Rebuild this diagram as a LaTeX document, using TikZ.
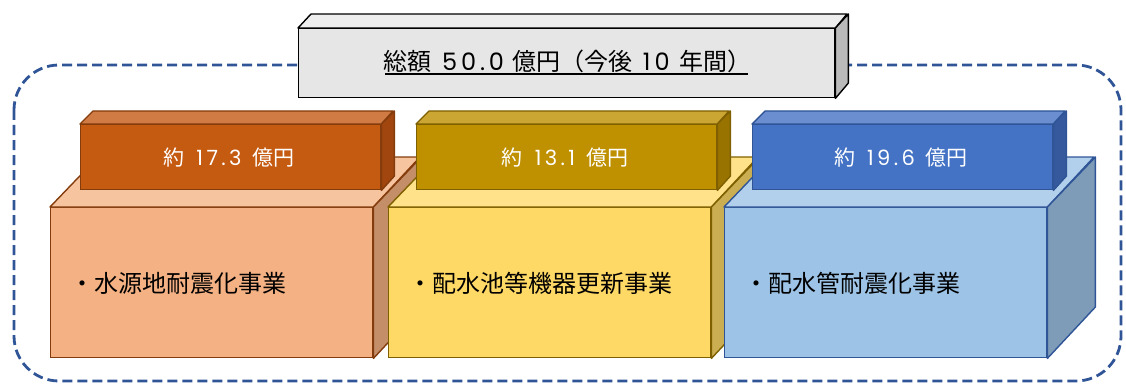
\documentclass[tikz,border=0pt]{standalone}
\usepackage{fontspec}
\newfontfamily\jp{Noto Sans CJK JP}
\newfontfamily\num{Poppins}[LetterSpace=16]
\definecolor{dashblue}{HTML}{2F5597}
% orange
\definecolor{olabF}{HTML}{C55A11}\definecolor{olabT}{HTML}{D07B43}\definecolor{olabR}{HTML}{A0460E}\definecolor{oline}{HTML}{843C0C}
\definecolor{obigF}{HTML}{F4B183}\definecolor{obigT}{HTML}{F7C4A0}\definecolor{obigR}{HTML}{C48E69}
% yellow
\definecolor{ylabF}{HTML}{BF9000}\definecolor{ylabT}{HTML}{CCA633}\definecolor{ylabR}{HTML}{997300}\definecolor{yline}{HTML}{7F6000}
\definecolor{ybigF}{HTML}{FFD966}\definecolor{ybigT}{HTML}{FFE28A}\definecolor{ybigR}{HTML}{CCAE52}
% blue
\definecolor{blabF}{HTML}{4472C4}\definecolor{blabT}{HTML}{6A8ECF}\definecolor{blabR}{HTML}{35599C}\definecolor{bline}{HTML}{2F5597}
\definecolor{bbigF}{HTML}{9DC3E6}\definecolor{bbigT}{HTML}{B2D0EC}\definecolor{bbigR}{HTML}{7E9CB8}
% gray
\definecolor{gF}{HTML}{E6E6E6}\definecolor{gT}{HTML}{EDEDED}\definecolor{gR}{HTML}{BABABA}
\tikzset{
  face/.style={line width=1.4pt, line join=round},
  frontbox/.style={rectangle, draw, line width=1.4pt, inner sep=0pt, anchor=north west},
  bigbox/.style={frontbox, minimum width=322pt, minimum height=150pt},
  labbox/.style={frontbox, minimum width=300pt, minimum height=65pt},
  labtext/.style={font=\jp\fontsize{21}{24}\selectfont, text=white, inner sep=0pt},
  bodytext/.style={font=\jp\fontsize{24}{27}\selectfont, text=black, anchor=west, inner sep=0pt},
}
\newcommand{\amt}[1]{約\hspace{12pt}{\num #1}\hspace{11pt}億円}
\begin{document}
\begin{tikzpicture}[x=1pt,y=-1pt]
\useasboundingbox (0,0) rectangle (1126,385);
% dashed frame
\draw[dashblue, line width=2.8pt, dash pattern=on 10pt off 5pt, rounded corners=45pt]
  (14,65) rectangle (1121,381);

% ---- big boxes ----
% orange
\node[bigbox, draw=oline, fill=obigF] (ob) at (50,207) {};
\filldraw[face, draw=oline, fill=obigT] (ob.north west) -- ++(48,-50) -- ++(322,0) -- (ob.north east) -- cycle;
\filldraw[face, draw=oline, fill=obigR] (ob.north east) -- ++(48,-50) -- ++(0,150) -- (ob.south east) -- cycle;
\node[bodytext] (ot) at (70,283) {・水源地耐震化事業};
% yellow
\node[bigbox, draw=yline, fill=ybigF] (yb) at (388,207) {};
\filldraw[face, draw=yline, fill=ybigT] (yb.north west) -- ++(48,-50) -- ++(322,0) -- (yb.north east) -- cycle;
\filldraw[face, draw=yline, fill=ybigR] (yb.north east) -- ++(48,-50) -- ++(0,150) -- (yb.south east) -- cycle;
\node[bodytext] (yt) at (408,283) {・配水池等機器更新事業};
% blue
\node[bigbox, draw=bline, fill=bbigF] (bb) at (724,207) {};
\filldraw[face, draw=bline, fill=bbigT] (bb.north west) -- ++(48,-50) -- ++(322,0) -- (bb.north east) -- cycle;
\filldraw[face, draw=bline, fill=bbigR] (bb.north east) -- ++(48,-50) -- ++(0,150) -- (bb.south east) -- cycle;
\node[bodytext] (bt) at (744,283) {・配水管耐震化事業};

% ---- label boxes ----
\node[labbox, draw=oline, fill=olabF] (ol) at (80,124) {};
\filldraw[face, draw=oline, fill=olabT] (ol.north west) -- ++(13,-13) -- ++(300,0) -- (ol.north east) -- cycle;
\filldraw[face, draw=oline, fill=olabR] (ol.north east) -- ++(13,-13) -- ++(0,65) -- (ol.south east) -- cycle;
\node[labtext] (olt) at (229,158) {\amt{17.3}};

\node[labbox, draw=yline, fill=ylabF] (yl) at (416,124) {};
\filldraw[face, draw=yline, fill=ylabT] (yl.north west) -- ++(13,-13) -- ++(300,0) -- (yl.north east) -- cycle;
\filldraw[face, draw=yline, fill=ylabR] (yl.north east) -- ++(13,-13) -- ++(0,65) -- (yl.south east) -- cycle;
\node[labtext] (ylt) at (565,158) {\amt{13.1}};

\node[labbox, draw=bline, fill=blabF] (bl) at (752,124) {};
\filldraw[face, draw=bline, fill=blabT] (bl.north west) -- ++(13,-13) -- ++(300,0) -- (bl.north east) -- cycle;
\filldraw[face, draw=bline, fill=blabR] (bl.north east) -- ++(13,-13) -- ++(0,65) -- (bl.south east) -- cycle;
\node[labtext] (blt) at (901,158) {\amt{19.6}};

% ---- total box ----
\node[frontbox, draw=black, fill=gF, minimum width=536pt, minimum height=69pt] (tot) at (298,28) {};
\filldraw[face, draw=black, fill=gT] (tot.north west) -- ++(13,-14) -- ++(536,0) -- (tot.north east) -- cycle;
\filldraw[face, draw=black, fill=gR] (tot.north east) -- ++(13,-14) -- ++(0,69) -- (tot.south east) -- cycle;
\node[font=\jp\fontsize{24}{27}\selectfont, text=black, inner sep=0pt, anchor=west] (tt) at (383,61)
  {総額\hspace{11pt}{\num 50.0}\hspace{9pt}億円（今後\hspace{10pt}{\num 10}\hspace{10pt}年間）};
\coordinate (ul1) at (385,74);
\coordinate (ul2) at (748,74);
\draw[line width=1.5pt] (ul1) -- (ul2);
\end{tikzpicture}
\end{document}
